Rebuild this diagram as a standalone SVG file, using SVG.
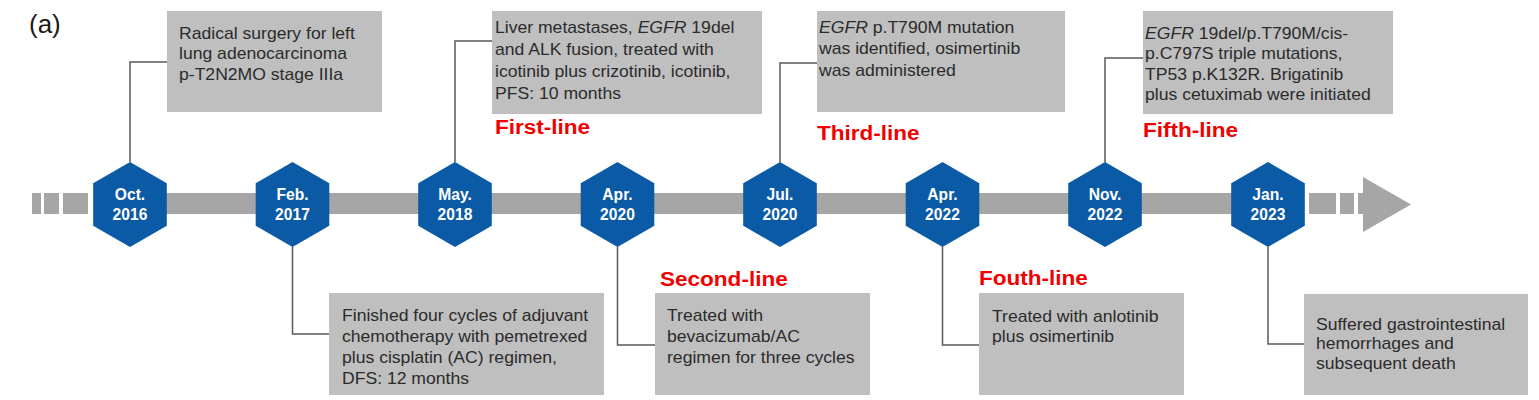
<svg xmlns="http://www.w3.org/2000/svg" xmlns:xlink="http://www.w3.org/1999/xlink" width="1539" height="400" viewBox="0 0 1539 400">
<defs>
<style>
.box{fill:#bfbfbf}
.t{font-family:"Liberation Sans",Arial,sans-serif;font-size:16px;fill:#2b2b2b}
.i{font-style:italic}
.red{font-family:"Liberation Sans",Arial,sans-serif;font-size:20.5px;font-weight:bold;fill:#f00000}
.hl{font-family:"Liberation Sans",Arial,sans-serif;font-size:17px;font-weight:bold;fill:#ffffff;text-anchor:middle}
.hex{fill:#0b5aa5}
.bar{fill:#a6a6a6}
.con{fill:none;stroke:#5a5a5a;stroke-width:1.5}
</style>
<polygon id="hx" points="0,-42.5 36.8,-21.25 36.8,21.25 0,42.5 -36.8,21.25 -36.8,-21.25"/>
</defs>
<rect width="1539" height="400" fill="#ffffff"/>
<text x="29" y="33" font-family="Liberation Sans, Arial, sans-serif" font-size="26" fill="#1a1a1a">(a)</text>

<g id="timeline">
<rect class="bar" x="32" y="193" width="9" height="21"/>
<rect class="bar" x="44" y="193" width="15" height="21"/>
<rect class="bar" x="63" y="193" width="25" height="21"/>
<rect class="bar" x="130" y="193" width="1138" height="21"/>
<rect class="bar" x="1309" y="193" width="27" height="21"/>
<rect class="bar" x="1340" y="193" width="14" height="21"/>
<rect class="bar" x="1358" y="193" width="5" height="21"/>
<polygon class="bar" points="1363,177 1411,204.5 1363,232"/>
</g>

<g id="connectors">
<path class="con" d="M130,162 V62 H167"/>
<path class="con" d="M455,162 V41 H492"/>
<path class="con" d="M780,162 V63 H817"/>
<path class="con" d="M1105,162 V58 H1143"/>
<path class="con" d="M292.5,247 V334 H329"/>
<path class="con" d="M617.5,247 V345 H655"/>
<path class="con" d="M942.5,247 V345 H979"/>
<path class="con" d="M1268,247 V344 H1304"/>
</g>

<g id="hex-oct2016"><use xlink:href="#hx" class="hex" x="130" y="204.5"/><text class="hl" transform="translate(130,0) scale(0.92 1)"><tspan x="0" y="200">Oct.</tspan><tspan x="0" y="220.5">2016</tspan></text></g>
<g id="hex-feb2017"><use xlink:href="#hx" class="hex" x="292.5" y="204.5"/><text class="hl" transform="translate(292.5,0) scale(0.92 1)"><tspan x="0" y="200">Feb.</tspan><tspan x="0" y="220.5">2017</tspan></text></g>
<g id="hex-may2018"><use xlink:href="#hx" class="hex" x="455" y="204.5"/><text class="hl" transform="translate(455,0) scale(0.92 1)"><tspan x="0" y="200">May.</tspan><tspan x="0" y="220.5">2018</tspan></text></g>
<g id="hex-apr2020"><use xlink:href="#hx" class="hex" x="617.5" y="204.5"/><text class="hl" transform="translate(617.5,0) scale(0.92 1)"><tspan x="0" y="200">Apr.</tspan><tspan x="0" y="220.5">2020</tspan></text></g>
<g id="hex-jul2020"><use xlink:href="#hx" class="hex" x="780" y="204.5"/><text class="hl" transform="translate(780,0) scale(0.92 1)"><tspan x="0" y="200">Jul.</tspan><tspan x="0" y="220.5">2020</tspan></text></g>
<g id="hex-apr2022"><use xlink:href="#hx" class="hex" x="942.5" y="204.5"/><text class="hl" transform="translate(942.5,0) scale(0.92 1)"><tspan x="0" y="200">Apr.</tspan><tspan x="0" y="220.5">2022</tspan></text></g>
<g id="hex-nov2022"><use xlink:href="#hx" class="hex" x="1105" y="204.5"/><text class="hl" transform="translate(1105,0) scale(0.92 1)"><tspan x="0" y="200">Nov.</tspan><tspan x="0" y="220.5">2022</tspan></text></g>
<g id="hex-jan2023"><use xlink:href="#hx" class="hex" x="1268" y="204.5"/><text class="hl" transform="translate(1268,0) scale(0.92 1)"><tspan x="0" y="200">Jan.</tspan><tspan x="0" y="220.5">2023</tspan></text></g>

<g id="box-surgery">
<rect class="box" x="167" y="11" width="215" height="101"/>
<text class="t" transform="translate(179,39) scale(1.1 1)"><tspan x="0" y="0">Radical surgery for left</tspan><tspan x="0" y="20.5">lung adenocarcinoma</tspan><tspan x="0" y="41">p-T2N2MO stage IIIa</tspan></text>
</g>

<g id="box-first">
<rect class="box" x="492" y="11" width="270" height="103"/>
<text class="t" transform="translate(495,33) scale(1.1 1)"><tspan x="0" y="0">Liver metastases, <tspan class="i">EGFR</tspan> 19del</tspan><tspan x="0" y="22">and ALK fusion, treated with</tspan><tspan x="0" y="44">icotinib plus crizotinib, icotinib,</tspan><tspan x="0" y="66">PFS: 10 months</tspan></text>
<text class="red" transform="translate(495,134) scale(1.1 1)">First-line</text>
</g>

<g id="box-third">
<rect class="box" x="817" y="11" width="248" height="101"/>
<text class="t" transform="translate(819,33) scale(1.1 1)"><tspan x="0" y="0"><tspan class="i">EGFR</tspan> p.T790M mutation</tspan><tspan x="0" y="21.5">was identified, osimertinib</tspan><tspan x="0" y="43">was administered</tspan></text>
<text class="red" transform="translate(817,140) scale(1.1 1)">Third-line</text>
</g>

<g id="box-fifth">
<rect class="box" x="1143" y="11" width="250" height="103"/>
<text class="t" transform="translate(1145,39) scale(1.1 1)"><tspan x="0" y="0"><tspan class="i">EGFR</tspan> 19del/p.T790M/cis-</tspan><tspan x="0" y="20.3">p.C797S triple mutations,</tspan><tspan x="0" y="40.6">TP53 p.K132R. Brigatinib</tspan><tspan x="0" y="61">plus cetuximab were initiated</tspan></text>
<text class="red" transform="translate(1143,137) scale(1.1 1)">Fifth-line</text>
</g>

<g id="box-adjuvant">
<rect class="box" x="329" y="293" width="275" height="102"/>
<text class="t" transform="translate(342,321) scale(1.1 1)"><tspan x="0" y="0">Finished four cycles of adjuvant</tspan><tspan x="0" y="21">chemotherapy with pemetrexed</tspan><tspan x="0" y="42">plus cisplatin (AC) regimen,</tspan><tspan x="0" y="63">DFS: 12 months</tspan></text>
</g>

<g id="box-second">
<rect class="box" x="655" y="293" width="215" height="102"/>
<text class="t" transform="translate(667,321) scale(1.1 1)"><tspan x="0" y="0">Treated with</tspan><tspan x="0" y="21">bevacizumab/AC</tspan><tspan x="0" y="42">regimen for three cycles</tspan></text>
<text class="red" transform="translate(660,286) scale(1.1 1)">Second-line</text>
</g>

<g id="box-fourth">
<rect class="box" x="979" y="293" width="205" height="102"/>
<text class="t" transform="translate(992,322) scale(1.1 1)"><tspan x="0" y="0">Treated with anlotinib</tspan><tspan x="0" y="20.5">plus osimertinib</tspan></text>
<text class="red" transform="translate(979,285) scale(1.1 1)">Fouth-line</text>
</g>

<g id="box-death">
<rect class="box" x="1304" y="294" width="224" height="101"/>
<text class="t" transform="translate(1316,330) scale(1.1 1)"><tspan x="0" y="0">Suffered gastrointestinal</tspan><tspan x="0" y="19.5">hemorrhages and</tspan><tspan x="0" y="39">subsequent death</tspan></text>
</g>
</svg>
